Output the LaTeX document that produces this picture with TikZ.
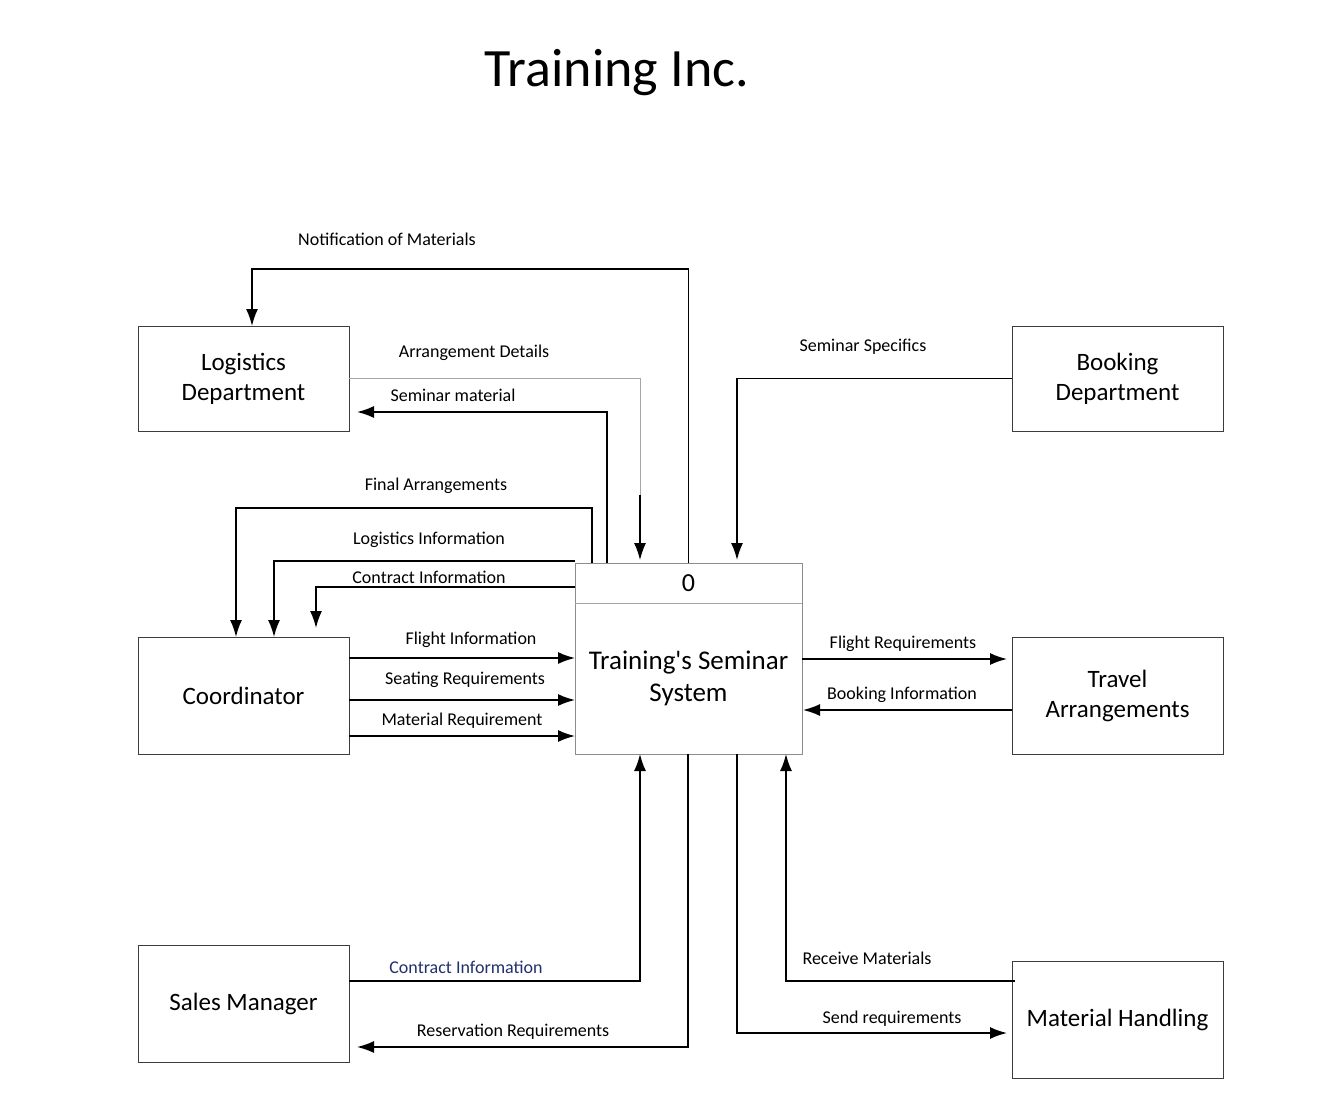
\documentclass[tikz,border=0pt]{standalone}
\usepackage{fontspec}
\setmainfont{Carlito}
\usetikzlibrary{arrows.meta,positioning}
\definecolor{boxline}{RGB}{60,60,60}
\definecolor{navy}{RGB}{31,48,110}
\tikzset{
  entity/.style={draw=boxline,line width=1pt,minimum width=211pt,align=center,
    inner sep=0pt,outer sep=0pt,font=\fontsize{25}{30}\selectfont},
  flow/.style={line width=1.6pt,-{Latex[length=17pt,width=12pt]}},
  glink/.style={line width=1pt,draw=black!35},
  lbl/.style={font=\fontsize{18}{20}\selectfont,inner sep=0pt}
}
\begin{document}
\begin{tikzpicture}[x=1pt,y=-1pt]
\useasboundingbox (0,0) rectangle (1336,1116);
% title
\node[font=\fontsize{54}{60}\selectfont] (title) at (617,73) {Training Inc.};
% external entities
\node[entity,minimum height=105pt] (logi) at (243.5,378.5) {Logistics\\Department};
\node[entity,minimum height=105pt] (book) at (1117.5,378.5) {Booking\\Department};
\node[entity,minimum height=117pt] (coord) at (243.5,695.5) {Coordinator};
\node[entity,minimum height=117pt] (trav) at (1117.5,695.5) {Travel\\Arrangements};
\node[entity,minimum height=117pt] (sales) at (243.5,1003.5) {Sales Manager};
\node[entity,minimum height=117pt] (mat) at (1117.5,1019.5) {Material Handling};
% the process
\node[draw=black!45,line width=1pt,minimum width=227pt,minimum height=191pt,
  inner sep=0pt,outer sep=0pt] (proc) at (688.5,658.5) {};
\draw[draw=black!35,line width=1pt] ([yshift=-40pt]proc.north west) -- ([yshift=-40pt]proc.north east);
\node[font=\fontsize{26}{30}\selectfont] (pnum) at (688.5,583) {0};
\node[font=\fontsize{27}{32}\selectfont,align=center] (pname) at (688.5,678) {Training\textquotesingle s Seminar\\System};
% bend points
\coordinate (nm) at (252,269);
\coordinate (ad) at (640,495);
\coordinate (sm) at (607,412);
\coordinate (fa) at (592,508);
\coordinate (fb) at (236,508);
\coordinate (li) at (274,561);
\coordinate (ci) at (316,587);
\coordinate (ss) at (737,379);
\coordinate (cs) at (640,981);
\coordinate (rr) at (688,1047);
\coordinate (sr) at (737,1033);
\coordinate (rm) at (786,981);
% flows at the top
\draw[flow] (proc.north) |- (nm) -- (nm |- logi.north);
\draw[glink] (logi.east) -| (ad);
\draw[flow,line width=1.3pt,shorten >=3pt] (ad) -- (ad |- proc.north);
\draw[flow,shorten >=8pt] (sm |- proc.north) -- (sm) -- (sm -| logi.east);
\draw[flow] (fa |- proc.north) -- (fa) -- (fb) -- (fb |- coord.north);
\draw[flow] (li -| proc.west) -- (li) -- (li |- coord.north);
\draw[flow,shorten >=9pt] (ci -| proc.west) -- (ci) -- (ci |- coord.north);
\draw[flow,shorten >=3pt] (book.west) -- ++(-2,0) -| (ss |- proc.north);
% flows at the sides
\foreach \yy in {658,700,736}
  \draw[flow] (coord.east |- 0,\yy) -- (proc.west |- 0,\yy);
\draw[flow,shorten >=5pt] (proc.east |- 0,659) -- (trav.west |- 0,659);
\draw[flow,shorten >=1pt] (trav.west |- 0,710) -- (proc.east |- 0,710);
% flows at the bottom
\draw[flow] (sales.east |- cs) -- (cs) -- (cs |- proc.south);
\draw[flow,shorten >=8pt] (rr |- proc.south) -- (rr) -- (rr -| sales.east);
\draw[flow,shorten >=5pt] (sr |- proc.south) -- (sr) -- (sr -| mat.west);
\draw[flow] ([xshift=3pt]mat.west |- rm) -- (rm) -- (rm |- proc.south);
% labels
\node[lbl] (lnm) at (387,239) {Notification of Materials};
\node[lbl] (lad) at (474,353) {Arrangement Details};
\node[lbl] (lsm) at (453,395) {Seminar material};
\node[lbl] (lfa) at (436,486) {Final Arrangements};
\node[lbl] (lli) at (429,540) {Logistics Information};
\node[lbl] (lci) at (429,577) {Contract Information};
\node[lbl] (lfi) at (471,640) {Flight Information};
\node[lbl] (lsr) at (465,680) {Seating Requirements};
\node[lbl] (lmr) at (462,721) {Material Requirement};
\node[lbl] (lss) at (863,347) {Seminar Specifics};
\node[lbl] (lfr) at (903,644) {Flight Requirements};
\node[lbl] (lbi) at (902,695) {Booking Information};
\node[lbl,text=navy] (lcs) at (466,967) {Contract Information};
\node[lbl] (lrr) at (513,1032) {Reservation Requirements};
\node[lbl] (lsq) at (892,1019) {Send requirements};
\node[lbl] (lrm) at (867,958) {Receive Materials};
\end{tikzpicture}
\end{document}
